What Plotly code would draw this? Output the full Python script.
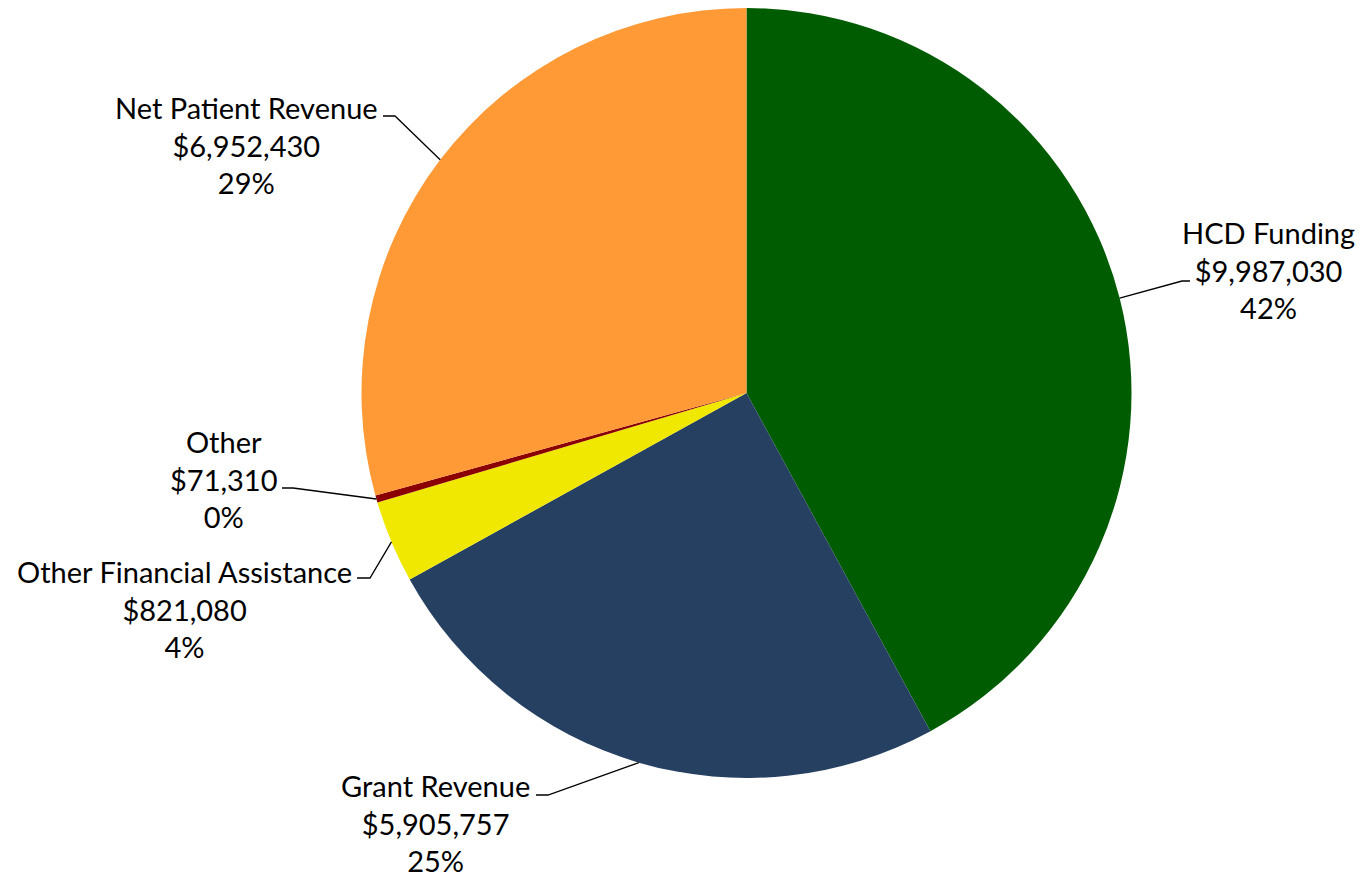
import math
import plotly.graph_objects as go

labels = ["HCD Funding", "Grant Revenue", "Other Financial Assistance", "Other", "Net Patient Revenue"]
values = [9987030, 5905757, 821080, 71310, 6952430]
percents = [42, 25, 4, 0, 29]
colors = ["#005C00", "#264061", "#F0E800", "#8B0000", "#FF9A36"]

# label layout (pixel positions of text block centre, elbow point, line end)
label_pos = {
    "HCD Funding": (1268, 270, 1182, 281, 1190, 281),
    "Grant Revenue": (435, 823, 548, 795, 536, 795),
    "Other Financial Assistance": (184, 609, 370, 578, 357, 578),
    "Other": (224, 479, 293, 488, 282, 488),
    "Net Patient Revenue": (246, 145, 395, 116, 383, 116),
}

W, H = 1360, 879
ML, MR, MT, MB = 361, 228, 8, 101
pw, ph = W - ML - MR, H - MT - MB
cx, cy = ML + pw / 2, MT + ph / 2
R = min(pw, ph) / 2

def to_paper(px, py):
    return (px - ML) / pw, (H - MB - py) / ph

fig = go.Figure(go.Pie(
    labels=labels, values=values, sort=False, direction="clockwise", rotation=0,
    marker=dict(colors=colors, line=dict(width=0)),
    textinfo="none", hoverinfo="label+value+percent", showlegend=False,
))

total = sum(values)
cum = 0
shapes, annotations = [], []
for lab, v, pct in zip(labels, values, percents):
    mid = (cum + v / 2) / total * 2 * math.pi
    cum += v
    ex, ey = cx + R * math.sin(mid), cy - R * math.cos(mid)
    tx, ty, bx, by, lx, ly = label_pos[lab]
    p0, p1, p2 = to_paper(ex, ey), to_paper(bx, by), to_paper(lx, ly)
    shapes.append(dict(type="path", xref="paper", yref="paper",
                       path=f"M {p0[0]} {p0[1]} L {p1[0]} {p1[1]} L {p2[0]} {p2[1]}",
                       line=dict(color="black", width=1.3)))
    ax, ay = to_paper(tx, ty)
    annotations.append(dict(x=ax, y=ay, xref="paper", yref="paper", showarrow=False,
                            xanchor="center", yanchor="middle", align="center",
                            text=f"{lab}<br>${v:,}<br>{pct}%",
                            font=dict(family="Lato", size=29, color="black")))

fig.update_layout(
    width=W, height=H, margin=dict(l=ML, r=MR, t=MT, b=MB),
    paper_bgcolor="white", plot_bgcolor="white",
    shapes=shapes, annotations=annotations,
)
fig.write_html("out.html")
